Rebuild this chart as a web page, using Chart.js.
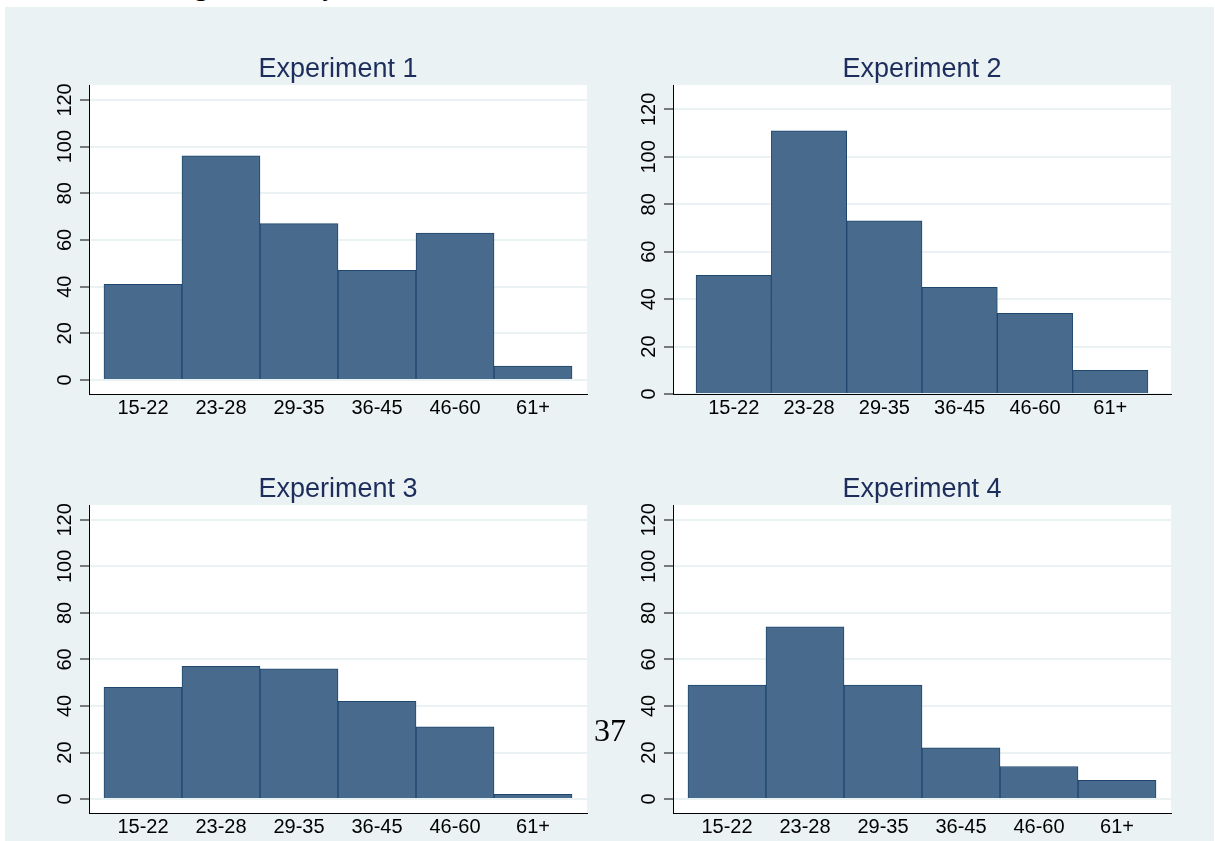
<!DOCTYPE html>
<html>
<head>
<meta charset="utf-8">
<script src="https://cdn.jsdelivr.net/npm/chart.js@4.4.0/dist/chart.umd.min.js"></script>
<style>
  html, body { margin: 0; padding: 0; background: #ffffff; overflow: hidden; }
  body { width: 1215px; height: 841px; position: relative; }
  #bg { position: absolute; left: 5px; top: 7px; width: 1209px; height: 834px; background: #eaf2f3; }
  #caption { position: absolute; left: 0; top: -29px; width: 1215px; height: 30px;
             font: 28px "Liberation Serif", "DejaVu Serif", serif; line-height: 30px; color: #000; }
  #caption span { position: absolute; top: 0; }
  #pagenum { position: absolute; left: 590px; top: 712px; width: 40px; text-align: center;
             font: 32px "Liberation Serif", "DejaVu Serif", serif; line-height: 36px; color: #000; }
  canvas { position: absolute; left: 0; top: 0; }
</style>
</head>
<body>
<div id="caption"><span style="left:194px">g</span><span style="left:324px">j</span></div>
<div id="bg"></div>
<canvas id="exp1" width="1215" height="841"></canvas>
<canvas id="exp2" width="1215" height="841"></canvas>
<canvas id="exp3" width="1215" height="841"></canvas>
<canvas id="exp4" width="1215" height="841"></canvas>
<div id="pagenum">37</div>

<script>
// --- data ---
const ageGroups = ['15-22', '23-28', '29-35', '36-45', '46-60', '61+'];
const exp1Counts = [41, 96, 67, 47, 63, 6];
const exp2Counts = [50, 111, 73, 45, 34, 10];
const exp3Counts = [48, 57, 56, 42, 31, 2];
const exp4Counts = [49, 74, 49, 22, 14, 8];
const yTicks = [0, 20, 40, 60, 80, 100, 120];
const panelTitles = ['Experiment 1', 'Experiment 2', 'Experiment 3', 'Experiment 4'];

// colours (Stata s2color look)
const BG = '#eaf2f3';
const BAR_FILL = '#476a8d';
const BAR_EDGE = '#1f476e';
const TITLE_COLOR = '#1e2e5c';
const FONT = '"Liberation Sans", Arial, sans-serif';

const Y_AXIS_W = 60;
const X_AXIS_H = 32;

// white plot region + title + rotated y labels
const panelDecor = {
    id: 'panelDecor',
    beforeDraw(chart) {
        const a = chart.chartArea;
        const ctx = chart.ctx;
        ctx.save();
        ctx.fillStyle = '#ffffff';
        ctx.fillRect(a.left, a.top, a.right - a.left, a.bottom - a.top);
        ctx.restore();
    },
    afterDraw(chart) {
        const a = chart.chartArea;
        const ctx = chart.ctx;
        const title = chart.options.plugins.panelDecor.title;
        ctx.save();
        ctx.fillStyle = TITLE_COLOR;
        ctx.font = '27px ' + FONT;
        ctx.textAlign = 'center';
        ctx.textBaseline = 'alphabetic';
        ctx.fillText(title, (a.left + a.right) / 2, a.top - 8);

        // y tick labels, rotated like the original
        const yScale = chart.scales.y;
        ctx.fillStyle = '#000000';
        ctx.font = '20px ' + FONT;
        ctx.textBaseline = 'middle';
        yScale.ticks.forEach(t => {
            const py = yScale.getPixelForValue(t.value);
            ctx.save();
            ctx.translate(a.left - 24, py);
            ctx.rotate(-Math.PI / 2);
            ctx.fillText(String(t.value), 0, 0);
            ctx.restore();
        });
        ctx.restore();
    }
};

function makePanel(canvasId, title, counts, area, xRange, yRange) {
    const ctx = document.getElementById(canvasId);
    new Chart(ctx, {
        type: 'bar',
        data: {
            datasets: [{
                data: counts.map((v, i) => ({ x: i, y: v })),
                backgroundColor: BAR_FILL,
                borderColor: BAR_EDGE,
                borderWidth: 1,
                barPercentage: 1,
                categoryPercentage: 1
            }]
        },
        options: {
            responsive: false,
            animation: false,
            devicePixelRatio: 1,
            layout: {
                padding: {
                    left: area.left - Y_AXIS_W,
                    top: area.top,
                    right: 1215 - area.right,
                    bottom: 841 - area.bottom - X_AXIS_H
                }
            },
            plugins: {
                legend: { display: false },
                tooltip: { enabled: false },
                panelDecor: { title: title }
            },
            scales: {
                x: {
                    type: 'linear',
                    offset: false,
                    min: xRange[0],
                    max: xRange[1],
                    afterBuildTicks: s => { s.ticks = ageGroups.map((_, i) => ({ value: i })); },
                    afterFit: s => { s.height = X_AXIS_H; },
                    grid: { display: false, drawTicks: false, offset: false },
                    border: { display: true, color: '#000000', width: 1 },
                    ticks: {
                        autoSkip: false,
                        maxRotation: 0,
                        padding: 2,
                        color: '#000000',
                        font: { family: FONT, size: 20 },
                        callback: (v, i) => ageGroups[i]
                    }
                },
                y: {
                    type: 'linear',
                    min: yRange[0],
                    max: yRange[1],
                    afterBuildTicks: s => { s.ticks = yTicks.map(v => ({ value: v })); },
                    afterFit: s => { s.width = Y_AXIS_W; },
                    grid: {
                        color: BG,
                        lineWidth: 2,
                        drawTicks: true,
                        tickLength: 9,
                        tickColor: '#000000',
                        tickWidth: 1
                    },
                    border: { display: true, color: '#000000', width: 1 },
                    ticks: { display: false }
                }
            }
        },
        plugins: [panelDecor]
    });
}

// plot regions measured on the original page
makePanel('exp1', panelTitles[0], exp1Counts, { left: 89, top: 85, right: 587, bottom: 394 }, [-0.692, 5.692], [-6, 126.4]);
makePanel('exp2', panelTitles[1], exp2Counts, { left: 673, top: 85, right: 1171, bottom: 394 }, [-0.806, 5.806], [0, 130.3]);
makePanel('exp3', panelTitles[2], exp3Counts, { left: 89, top: 505, right: 587, bottom: 813 }, [-0.692, 5.692], [-6, 126.4]);
makePanel('exp4', panelTitles[3], exp4Counts, { left: 673, top: 505, right: 1171, bottom: 813 }, [-0.692, 5.692], [-6, 126.4]);
</script>
</body>
</html>
